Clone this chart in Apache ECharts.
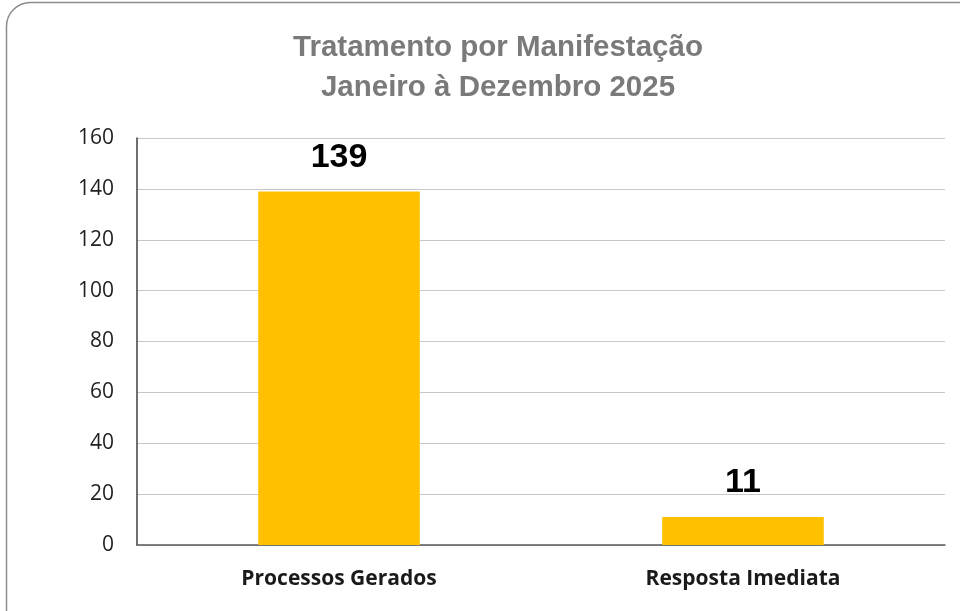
<!DOCTYPE html>
<html>
<head>
<meta charset="utf-8">
<script src="https://cdn.jsdelivr.net/npm/echarts@6/dist/echarts.min.js"></script>
<style>
  html, body { margin: 0; padding: 0; background: #fff; }
  #chart { width: 960px; height: 611px; }
</style>
</head>
<body>
<div id="chart"></div>
<script>
const titleLines = ['Tratamento por Manifestação', 'Janeiro à Dezembro 2025'];
const categories = ['Processos Gerados', 'Resposta Imediata'];
const values = [139, 11];
const yTicks = [0, 20, 40, 60, 80, 100, 120, 140, 160];

const chart = echarts.init(document.getElementById('chart'));
chart.setOption({
  backgroundColor: '#fff',
  animation: false,
  graphic: [{
    type: 'rect',
    shape: { x: 6.5, y: 2.5, width: 990, height: 640, r: 24 },
    style: { fill: 'none', stroke: '#8c8c8c', lineWidth: 1.5 },
    z: -1
  }],
  title: {
    text: titleLines.join('\n'),
    left: 493,
    top: 23,
    textAlign: 'center',
    textStyle: {
      fontFamily: 'Liberation Sans',
      fontWeight: 'bold',
      fontSize: 29.5,
      lineHeight: 40,
      color: '#7a7a7a'
    }
  },
  grid: { left: 137, right: 15, top: 138, bottom: 66 },
  xAxis: {
    type: 'category',
    data: categories,
    axisLine: { lineStyle: { color: '#595959', width: 1.5 } },
    axisTick: { show: false },
    axisLabel: {
      margin: 24,
      fontFamily: 'Open Sans',
      fontWeight: 'bold',
      fontSize: 21,
      color: '#1a1a1a'
    }
  },
  yAxis: {
    type: 'value',
    min: yTicks[0],
    max: yTicks[yTicks.length - 1],
    interval: 20,
    axisLine: { show: true, lineStyle: { color: '#404040', width: 1.5 } },
    axisTick: { show: false },
    splitLine: { lineStyle: { color: '#c8c8c8', width: 1 } },
    axisLabel: {
      margin: 23,
      fontFamily: 'Open Sans',
      fontSize: 21,
      color: '#1f1f1f'
    }
  },
  series: [{
    type: 'bar',
    data: values,
    barWidth: '40%',
    itemStyle: { color: '#ffc000' },
    label: {
      show: true,
      position: 'top',
      distance: 17,
      fontFamily: 'Liberation Sans',
      fontWeight: 'bold',
      fontSize: 34,
      color: '#000'
    }
  }]
});
</script>
</body>
</html>
